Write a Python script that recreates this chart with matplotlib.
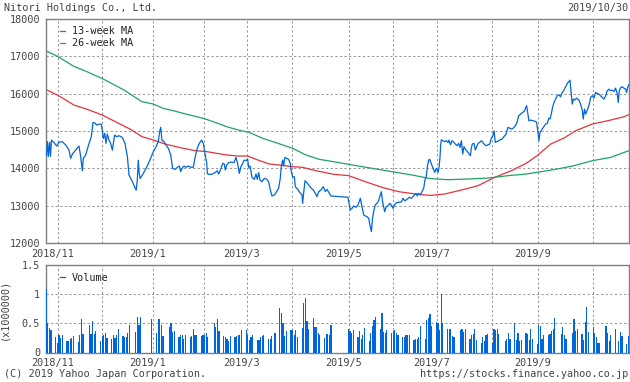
import pandas as pd
import matplotlib
matplotlib.use("Agg")
import matplotlib.pyplot as plt
from matplotlib.lines import Line2D
from matplotlib.transforms import ScaledTranslation

start = pd.Timestamp("2018-10-30")
end = pd.Timestamp("2019-10-30")

# price line: days since start, yen
price_day = [0.5, 1.1, 1.7, 2.4, 3.0, 3.6, 5.2, 6.9, 8.3, 10.4, 12.5, 14.6, 15.6, 16.7, 18.7, 20.8, 21.9, 22.9,
             23.5, 25.0, 27.1, 28.5, 29.6, 30.6, 31.9, 33.3, 34.8, 36.1, 36.9, 37.7, 38.5, 39.6, 40.6, 41.7,
             43.1, 44.4, 45.8, 47.9, 49.6, 51.1, 52.1, 54.2, 55.6, 56.6, 57.3, 57.9, 58.4, 59.0,
             61.1, 63.1, 65.2, 67.3, 69.0, 70.4, 71.1, 71.9, 72.3, 72.7, 74.0, 75.2, 76.7, 78.2, 79.4, 80.9,
             82.3, 83.6, 84.4, 85.7, 86.5, 87.7, 89.2, 90.7, 92.3, 93.6, 94.8, 96.1, 97.5, 98.6, 99.6, 100.7,
             101.1, 101.7, 103.8, 105.9, 107.3, 108.2, 109.4, 110.7, 111.7, 112.3, 113.2, 114.4, 116.3, 117.8,
             119.0, 120.0, 121.1, 122.1, 123.2, 124.2, 125.3, 126.3, 126.9, 127.8, 129.0, 130.5, 131.5, 132.3,
             133.2, 134.0, 135.3, 136.7, 138.2, 139.4, 140.5, 141.5, 143.0, 144.4, 145.7, 146.7, 147.4, 148.2,
             148.8, 149.6, 150.7, 151.9, 153.0, 153.6, 154.4, 155.5, 156.1, 157.6, 159.0, 160.3, 160.7, 161.3,
             162.2, 163.4, 164.9, 166.1, 167.4, 168.6, 169.7, 170.7, 172.2, 173.6, 174.9, 175.9, 177.4, 178.4,
             189.0, 189.5, 190.5, 191.6, 192.6, 194.1, 195.3, 196.8, 197.8, 198.9, 199.9, 200.9, 202.0, 203.0,
             203.7, 204.3, 205.1, 206.1, 207.2, 208.2, 209.3, 209.9, 210.7, 212.0, 213.0, 214.1, 215.1, 216.2,
             217.2, 218.2, 219.3, 220.7, 222.4, 223.5, 224.5, 225.5, 226.6, 227.6, 228.7, 229.7, 230.7, 231.6,
             232.4, 233.2, 234.3, 235.3, 236.4, 237.2, 238.0, 238.7, 239.5, 240.1, 241.2, 242.2, 243.3, 244.3,
             245.4, 246.0, 246.6, 247.0, 247.4, 248.5, 249.5, 250.6, 251.6, 252.2, 253.1, 254.1, 255.2, 256.2,
             257.2, 258.3, 259.1, 260.0, 260.8, 261.6, 262.4, 263.3, 264.1, 264.9, 265.6, 266.2, 266.8, 267.9,
             268.7, 269.5, 270.4, 271.4, 272.5, 273.5, 274.5, 275.6, 276.6, 277.7, 278.7, 279.7, 280.4, 281.2,
             282.5, 283.9, 285.4, 286.6, 287.9, 289.1, 290.2, 291.2, 292.5, 293.7, 294.8, 295.8, 297.1, 298.3,
             299.6, 300.2, 300.8, 301.6, 302.2, 303.3, 304.9, 306.4, 307.0, 307.9, 308.5, 309.1, 309.9, 311.2,
             312.6, 313.7, 314.7, 315.4, 316.2, 317.0, 317.9, 318.9, 319.9, 321.0, 322.0, 323.1, 324.1, 325.2,
             326.2, 327.2, 327.9, 328.5, 329.3, 330.0, 330.8, 332.0, 333.5, 334.5, 335.6, 336.2, 337.0, 337.7,
             338.7, 340.0, 340.8, 341.8, 342.9, 343.9, 345.0, 346.0, 347.0, 348.1, 349.1, 350.2, 351.2, 352.3,
             353.3, 354.3, 355.4, 356.4, 357.5, 358.1, 358.7, 359.6, 360.6, 361.6, 362.7, 363.3, 364.0, 364.6]
price = [14350, 14720, 14320, 14700, 14330, 14760, 14690, 14600, 14700, 14715, 14630, 14490, 14270, 14385, 14490,
         14600, 14310, 13940, 14270, 14360, 14670, 14850, 15230, 15220, 15160, 15185, 15180, 14800, 14940, 14670,
         14920, 14760, 14670, 14490, 14890, 14850, 14875, 14830, 14670, 14310, 13825, 13650, 13510, 13420, 13700,
         14220, 13900, 13730,
         13870, 14030, 14226, 14450, 14580, 14716, 14940, 15100, 14940, 14760, 14716, 14627, 14540, 14360, 14000,
         13977, 14030, 14066, 13915, 14030, 14066, 14030, 14066, 14030, 14030, 14333, 14540, 14670, 14760, 14670,
         14400, 14150, 13870, 13843, 13843, 13888, 13940, 13850, 13977, 14137, 14120, 13960, 14093, 14155, 14173,
         14155, 14297, 14137, 13870, 14048, 14137, 14226, 14208, 14253, 14030, 14066, 13763, 13710, 13852, 13710,
         13888, 13692, 13647, 13736, 13710, 13647, 13425, 13265, 13291, 13380, 13470, 13736, 14066, 14226, 14066,
         14297, 14270, 14244, 14137, 13915, 13780, 13780, 13514, 13443, 13354, 13291, 13069, 13336, 13674, 13620,
         13532, 13470, 13425, 13336, 13247, 13380, 13425, 13514, 13380, 13443, 13336, 13265,
         13230, 13113, 12890, 12935, 12997, 12962, 13024, 13202, 12980, 12757, 12730, 12712, 12668, 12445, 12312,
         12623, 12846, 13024, 13069, 13140, 13291, 13380, 13113, 12846, 12980, 12997, 13069, 13024, 12935, 13024,
         13086, 13095, 13104, 13202, 13140, 13158, 13202, 13229, 13202, 13247, 13291, 13336, 13265, 13336, 13291,
         13380, 13470, 13692, 13780, 14048, 14226, 14244, 14118, 14011, 13896, 14003, 13896, 14029, 14296, 14608,
         14768, 14741, 14715, 14741, 14697, 14759, 14634, 14741, 14697, 14652, 14608, 14670, 14563, 14741, 14385,
         14581, 14519, 14474, 14430, 14385, 14341, 14545, 14652, 14670, 14492, 14581, 14670, 14697, 14741, 14697,
         14634, 14608, 14634, 14652, 14812, 14875, 15008, 14697, 14723, 14759, 14786, 14848, 14919, 15097, 15079,
         15053, 15079, 15142, 15231, 15409, 15453, 15498, 15542, 15631, 15676, 15453, 15275, 15293, 15275, 15257,
         15231, 14964, 14741, 14964, 15008, 15097, 15186, 15204, 15346, 15320, 15453, 15631, 15765, 15854, 15943,
         15969, 15916, 16032, 16094, 16183, 16272, 16325, 16361, 16076, 15720, 15854, 15827, 15880, 15827, 15720,
         15560, 15320, 15587, 15453, 15560, 15720, 15898, 15943, 15880, 16032, 16005, 15987, 15943, 15898, 15854,
         15943, 16076, 16121, 16076, 16094, 16058, 16147, 15987, 15765, 16076, 16165, 16183, 16147, 16121, 16032,
         16165, 16236]

ma13_day = [0.6, 7.3, 17.7, 26.0, 35.4, 44.8, 53.1, 60.2, 67.3, 74.6, 79.8, 86.0, 93.4, 100.7, 113.2, 120.3,
            126.3, 131.5, 139.8, 146.1, 154.4, 160.7, 169.0, 180.3, 189.5, 199.9, 210.3, 220.7, 231.2, 240.3,
            249.5, 260.0, 270.4, 280.8, 291.2, 300.4, 307.4, 315.8, 324.1, 331.4, 341.8, 353.3, 361.6, 364.6]
ma13 = [16100, 15963, 15695, 15580, 15428, 15224, 15045, 14850, 14760, 14654, 14600, 14538, 14476, 14450, 14360,
        14333, 14333, 14244, 14120, 14093, 14048, 14030, 13941, 13843, 13808, 13647, 13496, 13380, 13318, 13280,
        13317, 13424, 13540, 13762, 13940, 14136, 14341, 14652, 14812, 15008, 15186, 15293, 15382, 15435]

ma26_day = [0.6, 7.9, 17.3, 25.6, 36.5, 49.0, 60.2, 67.3, 73.6, 79.8, 86.0, 98.6, 104.8, 113.2, 120.3, 127.3,
            135.7, 144.0, 154.4, 162.8, 171.1, 180.3, 191.6, 204.1, 216.6, 229.1, 240.4, 251.6, 264.1, 276.6,
            289.1, 300.4, 307.7, 319.9, 330.4, 341.8, 353.3, 364.6]
ma26 = [17135, 16985, 16736, 16590, 16380, 16096, 15785, 15722, 15606, 15544, 15473, 15339, 15250, 15117, 15028,
        14965, 14805, 14690, 14538, 14360, 14244, 14180, 14093, 14004, 13915, 13826, 13730, 13700, 13718, 13744,
        13807, 13851, 13900, 13985, 14074, 14207, 14296, 14474]

# TSE closed days inside the range
holidays = ["2018-11-23", "2018-12-24", "2018-12-31", "2019-01-01", "2019-01-02", "2019-01-03", "2019-01-14",
            "2019-02-11", "2019-03-21", "2019-04-29", "2019-04-30", "2019-05-01", "2019-05-02", "2019-05-03",
            "2019-05-06", "2019-07-15", "2019-08-12", "2019-09-16", "2019-09-23", "2019-10-14", "2019-10-22"]

# daily volume, x1000000
volume = [1.09, 0.5,
          0.42, 0.38, 0.27, 0.17, 0.3, 0.25, 0.3, 0.2, 0.2, 0.24, 0.25, 0.29, 0.18, 0.3, 0.57, 0.32, 0.47, 0.32, 0.54,
          0.32, 0.37,
          0.2, 0.28, 0.3, 0.33, 0.25, 0.23, 0.3, 0.25, 0.3, 0.4, 0.29, 0.27, 0.27, 0.34, 0.47, 0.36, 0.61, 0.48, 0.61,
          0.57, 0.33, 0.57, 0.57, 0.47, 0.28, 0.44, 0.5, 0.36, 0.37, 0.27, 0.3, 0.3, 0.23, 0.3, 0.26, 0.28, 0.41, 0.3,
          0.3, 0.28, 0.3, 0.3, 0.33, 0.26, 0.5, 0.44, 0.57, 0.37, 0.28, 0.26, 0.24, 0.19, 0.28, 0.26, 0.28, 0.3, 0.3,
          0.39, 0.39, 0.3, 0.21, 0.26, 0.3, 0.21, 0.21, 0.26, 0.28, 0.3, 0.23, 0.24, 0.28, 0.33, 0.76, 0.68, 0.5, 0.28,
          0.37,
          0.39, 0.39, 0.3, 0.39, 0.26, 0.43, 0.85, 0.93, 0.55, 0.41, 0.6, 0.44, 0.44, 0.34, 0.3, 0.25, 0.32, 0.32, 0.3,
          0.47,
          0.41, 0.37, 0.34, 0.39, 0.26, 0.37, 0.23, 0.3, 0.43, 0.2, 0.33, 0.46, 0.56, 0.61, 0.4, 0.68, 0.36, 0.34, 0.39,
          0.33, 0.37, 0.39, 0.33, 0.3, 0.27, 0.26, 0.3, 0.3, 0.3, 0.21, 0.24, 0.24, 0.26, 0.45, 0.23, 0.56, 0.6, 0.66,
          0.46,
          0.53, 0.51, 0.39, 1.01, 0.5, 0.41, 0.4, 0.41, 0.28, 0.27, 0.39, 0.41, 0.36, 0.41, 0.23, 0.3, 0.32, 0.41, 0.21,
          0.17, 0.27, 0.19,
          0.3, 0.32, 0.16, 0.41, 0.39, 0.41, 0.32, 0.19, 0.24, 0.33, 0.23, 0.5, 0.21, 0.33, 0.2, 0.21, 0.34, 0.32, 0.21,
          0.41, 0.24,
          0.15, 0.47, 0.45, 0.23, 0.3, 0.3, 0.32, 0.37, 0.41, 0.6, 0.32, 0.44, 0.3, 0.23, 0.33, 0.57, 0.37, 0.41, 0.32,
          0.21, 0.53, 0.79, 0.36, 0.44, 0.33, 0.26, 0.17, 0.17, 0.45, 0.33, 0.19, 0.3, 0.4, 0.19, 0.36, 0.28, 0.14, 0.29,
          0.32]

grid_dates = ["2018-11-07", "2018-12-04", "2019-01-05", "2019-02-06", "2019-03-05", "2019-04-02",
              "2019-05-08", "2019-06-04", "2019-07-02", "2019-08-05", "2019-09-03", "2019-10-07"]
grid_labels = ["2018/11", "", "2019/1", "", "2019/3", "", "2019/5", "", "2019/7", "", "2019/9", ""]

BLUE = "#0066dd"
RED = "#e8323c"
GREEN = "#1fa463"
TXT = "#444444"
FONT = "DejaVu Sans Mono"
FS = 7.3

plt.rcParams["font.family"] = FONT
plt.rcParams["font.size"] = FS

price_dates = start + pd.to_timedelta(price_day, unit="D")
ma13_dates = start + pd.to_timedelta(ma13_day, unit="D")
ma26_dates = start + pd.to_timedelta(ma26_day, unit="D")
trade_days = pd.bdate_range(start, end, freq="C", holidays=holidays)
n = min(len(trade_days), len(volume))
ticks = pd.to_datetime(grid_dates)

fig = plt.figure(figsize=(6.3, 3.82), dpi=100)
W, H = 630, 382
ax1 = fig.add_axes([45.7 / W, 1 - 243.3 / H, 583.6 / W, 224.5 / H])
ax2 = fig.add_axes([45.7 / W, 1 - 352.5 / H, 583.6 / W, 87.2 / H])

ax1.plot(price_dates, price, color=BLUE, lw=0.9, zorder=3)
ax1.plot(ma13_dates, ma13, color=RED, lw=0.9, label="13-week MA", zorder=2)
ax1.plot(ma26_dates, ma26, color=GREEN, lw=0.9, label="26-week MA", zorder=2)
ax1.set_ylim(12000, 18000)
ax1.set_yticks(range(12000, 18001, 1000))

ax2.bar(trade_days[:n], volume[:n], width=0.75, align="edge", color=BLUE, linewidth=0,
        antialiased=False, zorder=3)
ax2.set_ylim(0, 1.5)
ax2.set_yticks([0, 0.5, 1, 1.5])
ax2.set_yticklabels(["0", "0.5", "1", "1.5"])
ax2.set_ylabel("(x1000000)", color=TXT, labelpad=9)

shift = ScaledTranslation(-5.5 / 100, 0, fig.dpi_scale_trans)
for ax in (ax1, ax2):
    ax.set_xlim(start, end)
    ax.set_xticks(ticks)
    ax.set_xticklabels(grid_labels)
    ax.grid(True, color="#999999", lw=0.75, ls=(0, (2.2, 2.2)))
    ax.set_axisbelow(True)
    ax.tick_params(length=0, colors=TXT, labelsize=FS, pad=4)
    for lab in ax.get_xticklabels():
        lab.set_transform(lab.get_transform() + shift)
    for sp in ax.spines.values():
        sp.set_color("#808080")
        sp.set_linewidth(1.0)

leg = ax1.legend(loc="upper left", bbox_to_anchor=(0.012, 1.0), frameon=False, handlelength=0.45,
                 handletextpad=0.7, labelspacing=0.2, borderpad=0.25, fontsize=FS)
for t in leg.get_texts():
    t.set_color("#222222")
vol_handle = Line2D([], [], color=BLUE, lw=0.9)
leg2 = ax2.legend([vol_handle], ["Volume"], loc="upper left", bbox_to_anchor=(0.012, 1.0), frameon=False,
                  handlelength=0.45, handletextpad=0.7, borderpad=0.25, fontsize=FS)
for t in leg2.get_texts():
    t.set_color("#222222")

fig.text(4 / W, 1 - 8 / H, "Nitori Holdings Co., Ltd.", va="center", ha="left", color=TXT, fontsize=FS)
fig.text(628 / W, 1 - 8 / H, "2019/10/30", va="center", ha="right", color=TXT, fontsize=FS)
fig.text(4 / W, 1 - 374 / H, "(C) 2019 Yahoo Japan Corporation.", va="center", ha="left", color=TXT, fontsize=FS)
fig.text(628 / W, 1 - 374 / H, "https://stocks.finance.yahoo.co.jp", va="center", ha="right", color=TXT,
         fontsize=FS)

fig.savefig("out.png", dpi=100)
